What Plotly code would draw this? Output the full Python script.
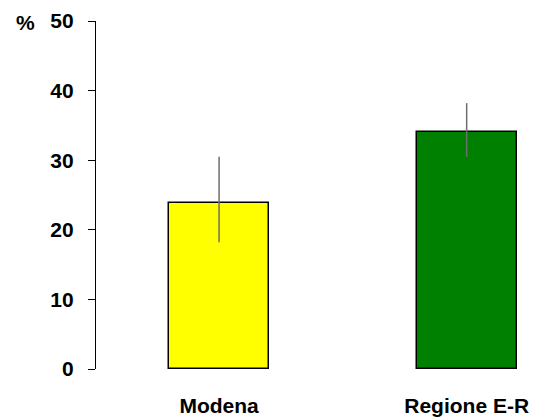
import plotly.graph_objects as go

categories = ["Modena", "Regione E-R"]
values = [23.9, 34.1]
err_plus = [6.6, 4.1]
err_minus = [5.7, 3.6]
colors = ["#FFFF00", "#008000"]
y_ticks = [0, 10, 20, 30, 40, 50]

FONT = "Liberation Sans, Arial, sans-serif"

fig = go.Figure()
fig.add_trace(go.Bar(
    x=[0, 1], y=values, width=0.404,
    marker=dict(color=colors, line=dict(color="#000000", width=1.5)),
    error_y=dict(type="data", symmetric=False, array=err_plus, arrayminus=err_minus,
                 color="#6e6e6e", thickness=1.5, width=0),
    showlegend=False, hoverinfo="skip",
))

fig.update_layout(
    width=543, height=418,
    margin=dict(l=96, r=7, t=21, b=48.5, autoexpand=False),
    plot_bgcolor="white", paper_bgcolor="white",
    font=dict(family=FONT, size=21, color="#000000"),
    bargap=0,
    xaxis=dict(range=[-0.497, 1.28], tickvals=[0, 1], ticktext=categories,
               showline=False, showgrid=False, zeroline=False, ticks="",
               automargin=False,
               tickfont=dict(family=FONT, size=21, color="#000000", weight="bold"),
               ticklabelstandoff=22),
    yaxis=dict(range=[0, 50], tickvals=y_ticks, showgrid=False, zeroline=False,
               showline=True, linecolor="#000000", linewidth=1.2, automargin=False,
               ticks="outside", ticklen=7, tickcolor="#000000", tickwidth=1.2,
               tickfont=dict(family=FONT, size=21, color="#000000", weight="bold"),
               ticklabelstandoff=10),
    yaxis2=dict(range=[0, 50], tickvals=y_ticks, overlaying="y", side="left",
                showgrid=False, zeroline=False, showline=False, automargin=False,
                ticks="inside", ticklen=7, tickcolor="#000000", tickwidth=1.2,
                showticklabels=False),
)

fig.add_annotation(text="<b>%</b>", xref="paper", yref="paper",
                   x=-0.161, y=0.997, xanchor="center", yanchor="middle",
                   showarrow=False, font=dict(family=FONT, size=21, color="#000000"))

fig.write_html("out.html", config={"displayModeBar": False},
               post_script="document.body.style.margin='0';document.body.style.overflow='hidden';")
